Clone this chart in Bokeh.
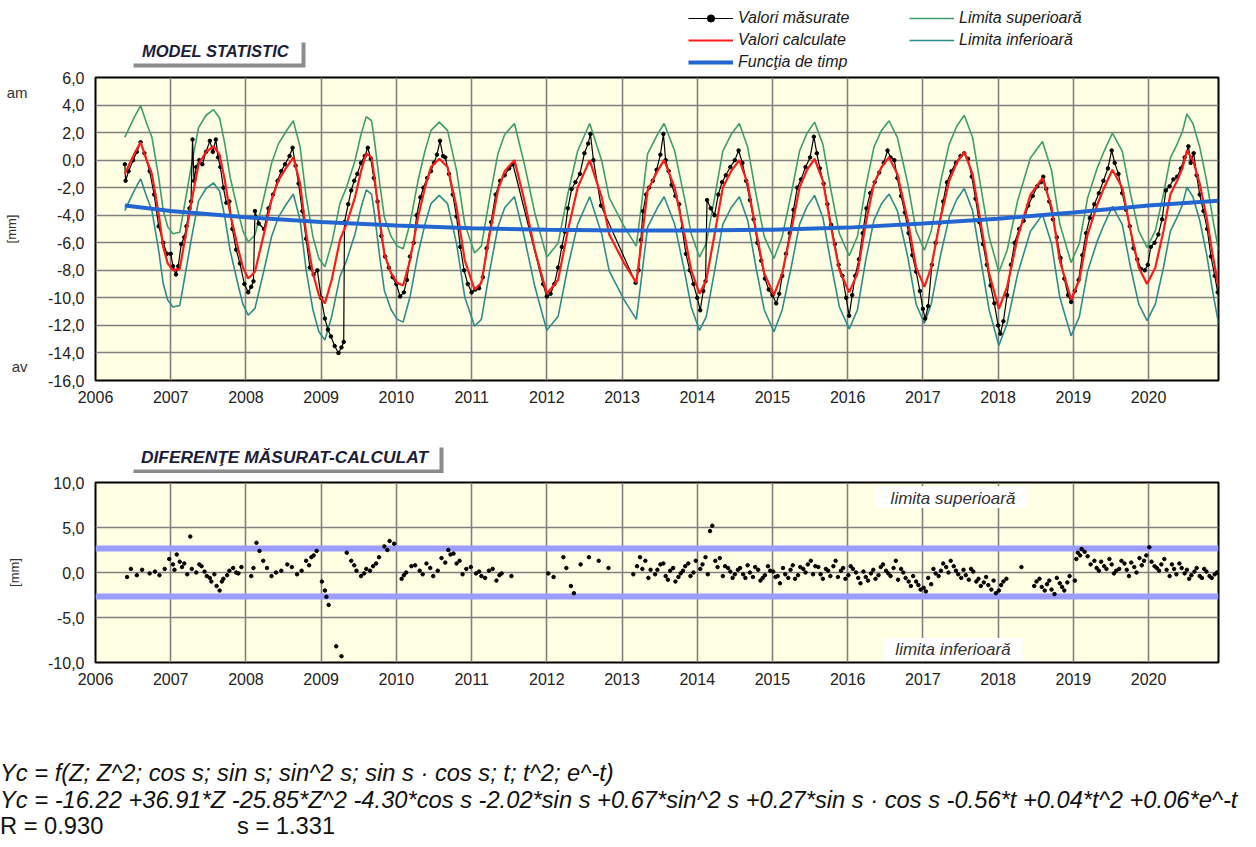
import math
from bokeh.plotting import figure
from bokeh.models import (Range1d, FixedTicker, CustomJSTickFormatter, Label, LinearAxis,
                          Legend, LegendItem, Span, BoxAnnotation, Div)
from bokeh.layouts import column
from bokeh.embed import file_html
from bokeh.resources import INLINE

FONT = "Liberation Sans"

# ---------------- data ----------------
year_ticks = list(range(2006, 2021))
top_yticks = [-16, -14, -12, -10, -8, -6, -4, -2, 0, 2, 4, 6]
bot_yticks = [-10, -5, 0, 5, 10]

# calculated values (red)
calc_year = [2006.39, 2006.45, 2006.52, 2006.60, 2006.68, 2006.75, 2006.84, 2006.90, 2006.96,
             2007.03, 2007.12, 2007.21, 2007.28, 2007.37, 2007.47, 2007.57, 2007.65, 2007.72, 2007.79, 2007.90, 2007.96,
             2008.03, 2008.12, 2008.25, 2008.34, 2008.43, 2008.53, 2008.63, 2008.72, 2008.80, 2008.89, 2008.97,
             2009.05, 2009.14, 2009.25, 2009.34, 2009.45, 2009.53, 2009.60, 2009.67, 2009.71, 2009.78, 2009.84, 2009.93,
             2010.01, 2010.09, 2010.18, 2010.29, 2010.38, 2010.46, 2010.57, 2010.68, 2010.80, 2010.91,
             2011.04, 2011.13, 2011.24, 2011.35, 2011.44, 2011.57, 2011.70, 2011.84,
             2012.00, 2012.15, 2012.28, 2012.41, 2012.57, 2012.73, 2012.83,
             2013.03, 2013.19, 2013.25, 2013.34, 2013.47, 2013.56, 2013.70, 2013.83, 2013.92,
             2014.03, 2014.12, 2014.23, 2014.34, 2014.45, 2014.56, 2014.67, 2014.78, 2014.89,
             2015.02, 2015.13, 2015.25, 2015.36, 2015.46, 2015.56, 2015.67, 2015.78, 2015.89,
             2016.02, 2016.13, 2016.24, 2016.35, 2016.45, 2016.55, 2016.66, 2016.80, 2016.91,
             2017.02, 2017.11, 2017.24, 2017.35, 2017.45, 2017.55, 2017.66, 2017.77, 2017.88,
             2018.01, 2018.12, 2018.26, 2018.43, 2018.59, 2018.71, 2018.82, 2018.97,
             2019.08, 2019.19, 2019.32, 2019.41, 2019.52, 2019.65, 2019.76, 2019.87, 2019.98,
             2020.09, 2020.20, 2020.29, 2020.38, 2020.45, 2020.51, 2020.59, 2020.68, 2020.77, 2020.85, 2020.93]
calc_val = [-1.0, -0.3, 0.5, 1.3, 0.0, -1.0, -3.9, -6.3, -7.5,
            -8.0, -7.9, -5.1, -2.9, -0.3, 0.6, 1.0, 0.4, -1.5, -3.9, -6.5, -7.8,
            -8.6, -8.1, -5.1, -2.9, -1.5, -0.6, 0.2, -1.7, -5.3, -8.2, -9.8,
            -10.4, -8.7, -5.8, -4.6, -2.7, -0.8, 0.5, 0.2, -1.3, -4.4, -6.8, -8.2,
            -8.9, -9.1, -7.3, -4.1, -2.0, -0.5, 0.1, -0.5, -3.4, -7.3,
            -9.4, -8.9, -5.4, -2.2, -0.8, 0.0, -2.9, -6.5,
            -9.7, -8.7, -5.1, -2.0, 0.0, -2.7, -5.4,
            -7.5, -8.9, -6.3, -2.2, -0.8, 0.0, -2.0, -5.4, -8.0,
            -9.7, -8.7, -5.4, -2.0, -0.8, 0.0, -1.7, -5.1, -8.2,
            -9.8, -8.2, -5.1, -2.0, -0.7, 0.1, -1.5, -4.9, -8.0,
            -9.6, -8.2, -4.6, -1.7, -0.5, 0.2, -1.0, -4.4, -7.8,
            -9.2, -7.8, -4.1, -1.5, -0.2, 0.6, -1.0, -4.6, -8.2,
            -10.8, -9.2, -5.6, -2.5, -1.3, -3.4, -7.3, -10.1,
            -8.7, -5.4, -3.2, -2.0, -0.7, -2.0, -5.1, -7.8, -9.0,
            -7.8, -5.1, -2.5, -1.5, -0.6, 0.7, 0.0, -1.7, -4.1, -6.8, -9.2]

# control band half-width (2 * s)
BAND = 2.66
upper_val = [v + BAND for v in calc_val]
lower_val = [v - BAND for v in calc_val]

# measured values (black)
meas_year = [2006.39, 2006.40, 2006.44, 2006.50, 2006.55, 2006.60, 2006.65, 2006.72, 2006.78, 2006.84, 2006.90, 2006.95,
             2007.00, 2007.03, 2007.07, 2007.10, 2007.14, 2007.18, 2007.21, 2007.25, 2007.27, 2007.29, 2007.31, 2007.34,
             2007.38, 2007.42, 2007.47, 2007.52, 2007.56, 2007.60, 2007.63, 2007.66, 2007.70, 2007.74, 2007.78, 2007.82,
             2007.87, 2007.92, 2007.98,
             2008.03, 2008.07, 2008.10, 2008.12, 2008.17, 2008.24, 2008.30, 2008.36, 2008.42, 2008.47, 2008.52, 2008.58,
             2008.62, 2008.66, 2008.70, 2008.75, 2008.80, 2008.85, 2008.90, 2008.95,
             2009.00, 2009.05, 2009.09, 2009.13, 2009.18, 2009.23, 2009.27, 2009.30, 2009.31, 2009.36, 2009.40, 2009.44,
             2009.48, 2009.53, 2009.58, 2009.62, 2009.66, 2009.70, 2009.75, 2009.80, 2009.85, 2009.90, 2009.95,
             2010.00, 2010.05, 2010.10, 2010.14, 2010.18, 2010.23, 2010.27, 2010.32, 2010.36, 2010.41, 2010.46, 2010.50,
             2010.54, 2010.58, 2010.62, 2010.65, 2010.70, 2010.75, 2010.80, 2010.85, 2010.90, 2010.95,
             2011.00, 2011.05, 2011.10, 2011.15, 2011.20, 2011.26, 2011.32, 2011.38, 2011.44, 2011.50, 2011.55, 2011.95,
             2012.00, 2012.05, 2012.10, 2012.15, 2012.20, 2012.24, 2012.28, 2012.33, 2012.38, 2012.44, 2012.50, 2012.55,
             2012.58, 2012.62, 2012.72,
             2013.18, 2013.22, 2013.25, 2013.28, 2013.32, 2013.36, 2013.41, 2013.46, 2013.51, 2013.55, 2013.58, 2013.62,
             2013.66, 2013.71, 2013.76, 2013.80, 2013.85, 2013.90, 2013.95,
             2014.00, 2014.04, 2014.08, 2014.11, 2014.13, 2014.18, 2014.23, 2014.28, 2014.33, 2014.38, 2014.44, 2014.50,
             2014.55, 2014.60, 2014.65, 2014.70, 2014.75, 2014.80, 2014.85, 2014.90, 2014.95,
             2015.00, 2015.05, 2015.09, 2015.13, 2015.18, 2015.23, 2015.28, 2015.33, 2015.38, 2015.44, 2015.50, 2015.55,
             2015.59, 2015.63, 2015.68, 2015.73, 2015.78, 2015.83, 2015.88, 2015.93, 2015.98,
             2016.02, 2016.06, 2016.10, 2016.15, 2016.20, 2016.25, 2016.30, 2016.36, 2016.42, 2016.48, 2016.53, 2016.57,
             2016.62, 2016.66, 2016.71, 2016.76, 2016.81, 2016.86, 2016.91, 2016.96,
             2017.00, 2017.03, 2017.07, 2017.12, 2017.17, 2017.22, 2017.27, 2017.32, 2017.38, 2017.44, 2017.50, 2017.55,
             2017.60, 2017.65, 2017.70, 2017.75, 2017.80, 2017.85, 2017.90, 2017.95,
             2018.00, 2018.03, 2018.07, 2018.12, 2018.17, 2018.22, 2018.28, 2018.34, 2018.40, 2018.46, 2018.52, 2018.57,
             2018.60, 2018.64, 2018.68, 2018.73, 2018.78, 2018.83, 2018.88, 2018.93, 2018.97,
             2019.02, 2019.07, 2019.12, 2019.17, 2019.22, 2019.28, 2019.34, 2019.40, 2019.46, 2019.51, 2019.55, 2019.60,
             2019.65, 2019.70, 2019.75, 2019.80, 2019.85, 2019.90, 2019.95, 2019.99,
             2020.03, 2020.08, 2020.13, 2020.18, 2020.23, 2020.28, 2020.33, 2020.38, 2020.43, 2020.48, 2020.53, 2020.56,
             2020.60, 2020.64, 2020.68, 2020.73, 2020.78, 2020.83, 2020.88, 2020.92]
meas_val = [-0.3, -1.5, -0.8, 0.0, 0.6, 1.3, 0.5, -0.8, -2.5, -4.8, -6.0, -6.8,
            -6.8, -7.7, -8.3, -7.7, -6.1, -5.6, -4.8, -3.5, -3.0, 1.5, -1.5, -0.5,
            0.0, -0.3, 0.6, 1.4, 0.6, 1.5, 0.2, -0.5, -2.0, -3.1, -3.0, -5.0,
            -6.5, -7.5, -9.0,
            -9.6, -9.2, -8.8, -3.7, -4.6, -5.0, -3.5, -2.5, -1.5, -0.8, -0.3, 0.3,
            0.9, -0.4, -1.7, -3.7, -5.7, -7.8, -8.3, -8.0,
            -10.0, -11.5, -12.3, -12.8, -13.5, -14.0, -13.6, -13.2, -4.5, -3.2, -2.2, -1.5,
            -1.0, -0.2, 0.3, 0.9, 0.1, -1.3, -3.0, -5.5, -7.0, -7.8, -8.5,
            -9.0, -9.9, -9.6, -8.7, -7.0, -6.0, -4.0, -2.7, -2.0, -1.3, -0.8, -0.2,
            0.4, 1.4, 0.3, 0.2, -1.0, -2.5, -4.1, -6.3, -8.0, -9.0,
            -9.6, -9.4, -9.3, -8.5, -6.4, -4.5, -2.5, -1.5, -1.1, -0.6, -0.3, -9.0,
            -9.9, -9.7, -9.0, -7.8, -6.3, -5.2, -3.5, -2.1, -1.6, -1.0, 0.5, 1.2,
            1.9, 0.0, -3.3,
            -8.9, -8.0, -5.8, -3.7, -2.5, -2.0, -1.5, -0.7, 0.4, 1.9, 0.0, -0.8,
            -1.8, -2.6, -3.2, -5.0, -6.8, -8.0, -9.0,
            -10.0, -10.9, -9.5, -8.8, -2.9, -3.5, -4.0, -2.5, -1.6, -1.1, -0.5, 0.0,
            0.7, -0.2, -1.5, -2.9, -4.3, -6.0, -7.3, -8.6, -9.4,
            -9.8, -10.4, -9.7, -8.4, -6.8, -5.3, -3.6, -2.0, -1.4, -0.5, 0.2, 1.7,
            0.5, -0.6, -1.7, -3.2, -4.7, -6.1, -7.6, -8.4, -10.0,
            -11.3, -9.8, -8.4, -7.2, -5.3, -3.5, -2.4, -1.6, -0.9, -0.2, 0.7, 0.2,
            0.0, -1.3, -2.6, -3.8, -5.3, -6.9, -8.1, -9.5,
            -10.8, -11.5, -10.6, -7.6, -6.0, -4.6, -3.0, -1.6, -0.8, -0.2, 0.3, 0.5,
            0.1, -1.2, -2.8, -4.5, -6.1, -7.6, -9.1, -10.4,
            -12.0, -12.6, -11.7, -9.8, -7.6, -6.0, -5.0, -4.4, -3.3, -2.6, -1.9, -1.6,
            -1.2, -2.1, -3.0, -4.3, -5.6, -7.1, -8.6, -9.8, -10.3,
            -9.5, -8.7, -6.9, -5.3, -4.2, -3.2, -2.4, -1.5, -0.6, 0.7, -0.2, -1.0,
            -2.4, -3.6, -4.8, -6.4, -7.2, -7.9, -8.0, -7.6,
            -6.3, -6.0, -5.4, -4.3, -2.2, -1.9, -1.4, -1.2, -0.6, 0.2, 1.0, -0.2,
            0.5, -1.1, -2.5, -3.7, -5.0, -7.0, -8.4, -9.6]

# time function (blue)
trend_year = [2006.39, 2007, 2008, 2009, 2010, 2011, 2012, 2013, 2014, 2015, 2016, 2017, 2018, 2019, 2020, 2020.93]
trend_val = [-3.3, -3.7, -4.15, -4.5, -4.75, -4.95, -5.05, -5.1, -5.1, -5.05, -4.9, -4.6, -4.25, -3.8, -3.3, -2.95]

# differences measured - calculated (first pass)
diff_year = [2006.42, 2006.47, 2006.55, 2006.62, 2006.72, 2006.79, 2006.85, 2006.92, 2006.98,
             2007.03, 2007.08, 2007.12, 2007.15, 2007.26, 2007.28, 2007.34, 2007.41, 2007.48, 2007.54, 2007.61, 2007.65,
             2007.70, 2007.78, 2007.87, 2007.94,
             2008.07, 2008.14, 2008.18, 2008.23, 2008.28, 2008.34, 2008.47, 2008.61, 2008.74, 2008.80, 2008.87, 2008.94,
             2009.01, 2009.05, 2009.07, 2009.10, 2009.20, 2009.27, 2009.34, 2009.40, 2009.47, 2009.53, 2009.60, 2009.69,
             2009.77, 2009.84, 2009.91, 2009.97,
             2010.07, 2010.13, 2010.20, 2010.31, 2010.40, 2010.49, 2010.60, 2010.69, 2010.76, 2010.84, 2010.93, 2010.99,
             2011.06, 2011.13, 2011.23, 2011.33, 2011.40, 2011.53,
             2012.02, 2012.09, 2012.22, 2012.26, 2012.32, 2012.36, 2012.45, 2012.56, 2012.69, 2012.82,
             2013.15, 2013.20, 2013.24, 2013.31, 2013.38, 2013.44, 2013.51, 2013.58, 2013.64, 2013.71, 2013.78, 2013.84,
             2013.91, 2013.98,
             2014.04, 2014.11, 2014.17, 2014.20, 2014.24, 2014.30, 2014.37, 2014.44, 2014.50, 2014.57, 2014.64, 2014.70,
             2014.77, 2014.84, 2014.90, 2014.97,
             2015.04, 2015.10, 2015.17, 2015.24, 2015.30, 2015.37, 2015.44, 2015.51, 2015.57, 2015.64, 2015.71, 2015.77,
             2015.84, 2015.91, 2015.97,
             2016.04, 2016.11, 2016.17, 2016.24, 2016.31, 2016.37, 2016.44, 2016.51, 2016.57, 2016.64, 2016.71, 2016.77,
             2016.84, 2016.91, 2016.97,
             2017.04, 2017.11, 2017.17, 2017.24, 2017.31, 2017.37, 2017.44, 2017.51, 2017.57, 2017.64, 2017.71, 2017.77,
             2017.84, 2017.91, 2017.97,
             2018.04, 2018.11, 2018.31, 2018.48, 2018.55, 2018.62, 2018.68, 2018.75, 2018.82, 2018.88, 2018.95,
             2019.02, 2019.06, 2019.11, 2019.19, 2019.28, 2019.34, 2019.41, 2019.48, 2019.54, 2019.61, 2019.68, 2019.74,
             2019.81, 2019.88, 2019.94,
             2020.01, 2020.08, 2020.14, 2020.21, 2020.28, 2020.34, 2020.41, 2020.48, 2020.54, 2020.61, 2020.68, 2020.74,
             2020.81, 2020.88]
diff_val = [-0.5, 0.4, -0.3, 0.3, -0.1, 0.1, -0.3, 0.4, 1.5,
            0.9, 2.0, 1.2, 0.6, 4.0, 0.4, 0.0, 0.7, -0.4, -1.0, -1.5, -2.0,
            -0.7, 0.2, 0.0, 0.6,
            -0.4, 3.3, 2.4, 1.3, 0.5, -0.4, 0.2, 0.6, 0.2, 1.3, 1.7, 2.4,
            -1.0, -2.0, -2.7, -3.6, -8.2, -9.3, 2.2, 1.3, 0.2, -0.4, 0.4, 0.7,
            1.7, 2.9, 3.5, 3.2,
            -0.7, 0.0, 0.7, 0.2, 1.0, -0.4, 1.6, 2.5, 2.1, 1.3, 0.4, 0.6,
            -0.1, -0.4, 0.2, -0.9, -0.1, -0.4,
            -0.1, -0.5, 1.7, 0.5, -1.5, -2.3, 0.9, 1.7, 1.3, 0.5,
            -0.2, 0.7, 1.7, 1.3, 0.3, -0.2, 0.9, -0.4, 0.2, -1.0, -0.1, 0.7,
            -0.4, 1.3,
            0.4, 1.7, 4.6, 5.2, 1.3, 1.6, 0.7, 0.1, -0.2, 0.5, -0.6, 0.0,
            0.6, -0.9, -0.3, 0.2,
            -0.5, -1.2, -0.2, 0.3, -0.7, 0.6, 0.0, 1.3, 0.7, -0.2, 0.4, -0.4,
            1.3, 0.2, -0.7,
            0.7, 0.0, -1.2, -0.5, -0.1, -0.7, 0.6, 0.2, -0.4, 1.3, 0.4, -0.6,
            -1.5, -1.0, -1.9,
            -2.1, -1.3, -0.1, 0.2, 0.6, 1.3, 0.2, -0.6, -0.3, 0.4, -1.0, -1.5,
            -0.5, -1.9, -2.3,
            -1.4, -0.7, 0.6, -1.5, -0.7, -2.0, -0.9, -2.4, -1.2, -2.0, -0.4,
            -0.9, 2.2, 2.6, 1.8, 1.3, 0.2, 0.7, 1.5, -0.1, 0.4, 1.0, -0.4,
            0.6, 1.6, 1.3,
            2.8, 0.7, 0.2, 1.5, -0.4, 0.4, 1.0, -0.1, -0.7, 0.1, -0.4, 0.4,
            -0.4, -0.2]

# differences measured - calculated (second, denser pass)
diff_year_2 = [2007.05, 2007.18, 2007.22, 2007.38, 2007.45, 2007.52, 2007.58, 2007.68, 2007.75, 2007.83, 2007.90,
               2008.10, 2008.40, 2008.55, 2008.68, 2008.84, 2008.90,
               2009.44, 2009.57, 2009.65, 2009.73, 2009.88,
               2010.10, 2010.25, 2010.35, 2010.45, 2010.55, 2010.65, 2010.72, 2010.80, 2010.88,
               2011.10, 2011.18, 2011.28, 2011.37,
               2013.27, 2013.35, 2013.47, 2013.55, 2013.61, 2013.68, 2013.75, 2013.81, 2013.88, 2013.95,
               2014.07, 2014.14, 2014.27, 2014.34, 2014.41, 2014.47, 2014.54, 2014.61, 2014.67, 2014.74, 2014.81,
               2014.87, 2014.94,
               2015.01, 2015.07, 2015.14, 2015.21, 2015.27, 2015.34, 2015.41, 2015.47, 2015.54, 2015.61, 2015.67,
               2015.74, 2015.81, 2015.87, 2015.94,
               2016.01, 2016.07, 2016.14, 2016.21, 2016.27, 2016.34, 2016.41, 2016.47, 2016.54, 2016.61, 2016.67,
               2016.74, 2016.81, 2016.87, 2016.94,
               2017.01, 2017.07, 2017.14, 2017.21, 2017.27, 2017.34, 2017.41, 2017.47, 2017.54, 2017.61, 2017.67,
               2017.74, 2017.81, 2017.87, 2017.94,
               2018.01, 2018.07, 2018.51, 2018.58, 2018.65, 2018.71, 2018.78, 2018.85, 2018.92,
               2019.04, 2019.09, 2019.15, 2019.23, 2019.31, 2019.37, 2019.44, 2019.51, 2019.57, 2019.64, 2019.71,
               2019.77, 2019.84, 2019.91, 2019.97,
               2020.04, 2020.11, 2020.17, 2020.24, 2020.31, 2020.37, 2020.44, 2020.51, 2020.57, 2020.64, 2020.71,
               2020.77, 2020.84, 2020.91]
diff_val_2 = [0.3, 1.0, -0.2, 0.9, 0.1, -0.6, -0.2, -1.0, -0.3, 0.5, -0.1,
              0.5, 0.0, 0.9, -0.2, 0.8, 1.9,
              0.8, -0.1, 0.2, 1.0, 2.5,
              -0.3, 0.8, -0.2, 0.5, 0.2, 1.1, 2.0, 1.0, -0.2,
              0.1, -0.6, 0.4, -0.3,
              0.4, -0.6, 0.3, 1.0, -0.8, 0.5, -0.5, 0.2, 1.0, 0.0,
              0.9, -0.2, 0.6, -0.4, 0.5, -0.6, 0.3, -0.2, 0.8, -0.5, 0.3,
              -0.6, 0.7,
              0.1, -0.4, 0.5, -0.6, 0.8, -0.3, 0.4, 0.9, -0.2, 0.6, -0.7,
              0.2, 0.7, -0.5, 0.5,
              -0.3, 0.4, -0.6, 0.1, -0.9, 0.3, -0.3, 0.9, -0.1, 0.5, -0.8,
              0.0, -1.0, -0.4, -1.4,
              -1.7, -0.6, 0.4, -0.4, 1.0, 0.0, 0.7, -0.2, 0.3, -0.8, 0.1,
              -0.7, -1.1, -1.4, -0.9,
              -2.0, -1.0, -1.0, -1.6, -1.3, -1.9, -0.6, -1.6, -1.1,
              1.5, 1.9, 2.3, 0.9, 0.5, 1.2, 0.4, 0.9, 0.2, 1.3, 0.3,
              1.1, 0.0, 0.8, 1.9,
              1.2, 0.5, 0.9, 0.3, 0.9, -0.2, 0.5, 0.3, -0.3, 0.5, -0.6,
              0.1, -0.6, 0.0]

X_START, X_END = 2006, 2020.93

# ---------------- styles ----------------
FRAME_BG = "#FFFFE3"
GRID = "#7F7F7F"
UP_C = "#3C9E6C"
LO_C = "#2C8C8C"
RED = "#FF1A1A"
BLUE = "#2366D1"
BAND_C = "#9C9CFF"
TXT = "#222222"
W = 1250
LEFT = 94
RIGHT = 32


def style(p, yticks):
    p.background_fill_color = FRAME_BG
    p.border_fill_color = "white"
    p.outline_line_color = "black"
    p.outline_line_width = 2
    p.xaxis.ticker = FixedTicker(ticks=year_ticks)
    p.yaxis.ticker = FixedTicker(ticks=yticks)
    p.xgrid.ticker = FixedTicker(ticks=year_ticks)
    p.ygrid.ticker = FixedTicker(ticks=yticks)
    p.xgrid.grid_line_color = GRID
    p.ygrid.grid_line_color = GRID
    p.xgrid.grid_line_width = 1.6
    p.ygrid.grid_line_width = 1.6
    p.xaxis.formatter = CustomJSTickFormatter(code="return tick.toFixed(0);")
    p.yaxis.formatter = CustomJSTickFormatter(code="return tick.toFixed(1).replace('.', ',');")
    for ax in (p.xaxis, p.yaxis):
        ax.axis_line_color = None
        ax.major_tick_line_color = None
        ax.minor_tick_line_color = None
        ax.major_tick_out = 0
        ax.major_tick_in = 0
        ax.major_label_text_font = FONT
        ax.major_label_text_font_size = "16px"
        ax.major_label_text_color = TXT
    p.xaxis.major_label_standoff = 10
    p.yaxis.major_label_standoff = 11


def side_axis(p, ticks, label_standoff):
    ax = LinearAxis(ticker=FixedTicker(ticks=ticks),
                    formatter=CustomJSTickFormatter(code="return tick > 0 ? 'am' : 'av';"),
                    axis_label="[mm]", axis_label_standoff=label_standoff,
                    axis_label_text_font=FONT, axis_label_text_font_size="13px",
                    axis_label_text_font_style="normal", axis_label_text_color="#333333",
                    major_label_text_font=FONT, major_label_text_font_size="15px",
                    major_label_text_color="#333333", major_label_standoff=18,
                    axis_line_color=None, major_tick_line_color=None, minor_tick_line_color=None,
                    major_tick_out=0, major_tick_in=0)
    p.add_layout(ax, "left")


def blank(height):
    p = figure(width=W, height=height, x_range=Range1d(X_START, X_END), y_range=Range1d(50, 60),
               x_axis_type=None, y_axis_type=None, output_backend="svg", toolbar_location=None,
               title=None, min_border=0, min_border_left=LEFT, min_border_right=RIGHT,
               outline_line_color=None)
    p.background_fill_color = "white"
    p.border_fill_color = "white"
    return p


def title_box(p, text, left, right, bottom, top, size):
    box_kw = dict(left_units="screen", right_units="screen", top_units="screen", bottom_units="screen",
                  fill_alpha=1.0, line_color=None)
    p.add_layout(BoxAnnotation(left=left + 4, right=right + 4, bottom=bottom - 4, top=top - 4,
                               fill_color="#8C8C8C", **box_kw))
    p.add_layout(BoxAnnotation(left=left, right=right, bottom=bottom, top=top,
                               fill_color="white", **box_kw))
    p.add_layout(Label(x=(left + right) / 2, y=(bottom + top) / 2, x_units="screen", y_units="screen",
                       text=text, text_align="center", text_baseline="middle",
                       text_font=FONT, text_font_style="bold italic", text_font_size=size,
                       text_color="#1C1C3A"))


# ---------------- header with legend ----------------
p0 = blank(71)
h_up = p0.line(calc_year, upper_val, line_color=UP_C, line_width=1.6)
h_lo = p0.line(calc_year, lower_val, line_color=LO_C, line_width=1.6)
h_meas = p0.line(meas_year, meas_val, line_color="black", line_width=1.2)
h_meas_pts = p0.scatter(meas_year, meas_val, size=3, color="black")
h_calc = p0.line(calc_year, calc_val, line_color=RED, line_width=2)
h_trend = p0.line(trend_year, trend_val, line_color=BLUE, line_width=4)

leg_kw = dict(orientation="vertical", border_line_color=None, background_fill_alpha=0,
              padding=0, margin=0, spacing=4, label_height=18, glyph_height=18, glyph_width=45,
              label_standoff=5, label_text_font=FONT, label_text_font_style="italic",
              label_text_font_size="16px", label_text_color="#1A1A1A")
leg1 = Legend(items=[LegendItem(label="Valori măsurate", renderers=[h_meas, h_meas_pts]),
                     LegendItem(label="Valori calculate", renderers=[h_calc]),
                     LegendItem(label="Funcţia de timp", renderers=[h_trend])],
              location=(593, 0), **leg_kw)
leg2 = Legend(items=[LegendItem(label="Limita superioară", renderers=[h_up]),
                     LegendItem(label="Limita inferioară", renderers=[h_lo])],
              location=(814, 22), **leg_kw)
p0.add_layout(leg1)
p0.add_layout(leg2)
title_box(p0, "MODEL STATISTIC", 34, 206, 8, 33, "16.5px")

# ---------------- top chart ----------------
p1 = figure(width=W, height=344, x_range=Range1d(X_START, X_END), y_range=Range1d(-16, 6),
            output_backend="svg", toolbar_location=None, title=None,
            min_border_left=LEFT, min_border_right=RIGHT, min_border_top=6, min_border_bottom=35)
style(p1, top_yticks)
side_axis(p1, [4.9, -14.95], -15)

p1.line(calc_year, upper_val, line_color=UP_C, line_width=1.6)
p1.line(calc_year, lower_val, line_color=LO_C, line_width=1.6)
p1.line(meas_year, meas_val, line_color="black", line_width=1.2)
p1.scatter(meas_year, meas_val, size=3.5, color="black")
p1.line(calc_year, calc_val, line_color=RED, line_width=2.2)
p1.line(trend_year, trend_val, line_color=BLUE, line_width=4)

# ---------------- header of bottom chart ----------------
p2h = blank(58)
title_box(p2h, "DIFERENŢE MĂSURAT-CALCULAT", 34, 344, 4, 30, "17.4px")

# ---------------- bottom chart ----------------
p2 = figure(width=W, height=235, x_range=Range1d(X_START, X_END), y_range=Range1d(-10, 10),
            output_backend="svg", toolbar_location=None, title=None,
            min_border_left=LEFT, min_border_right=RIGHT, min_border_top=9, min_border_bottom=46)
style(p2, bot_yticks)
side_axis(p2, [], 24)

for lvl in (BAND, -BAND):
    p2.add_layout(Span(location=lvl, dimension="width", line_color=BAND_C, line_width=6, level="underlay"))

p2.scatter(diff_year, diff_val, size=3.5, color="black")
p2.scatter(diff_year_2, diff_val_2, size=3.5, color="black")

# white boxes behind the limit captions
p2.add_layout(BoxAnnotation(left=2016.37, right=2018.39, bottom=7.17, top=9.61,
                            fill_color="white", fill_alpha=1.0, line_color=None))
p2.add_layout(BoxAnnotation(left=2016.47, right=2018.33, bottom=-9.83, top=-7.28,
                            fill_color="white", fill_alpha=1.0, line_color=None))
lim_kw = dict(text_font=FONT, text_font_style="italic", text_font_size="17px", text_color="#333333",
              text_align="center", text_baseline="middle")
p2.add_layout(Label(x=2017.40, y=8.25, text="limita superioară", **lim_kw))
p2.add_layout(Label(x=2017.40, y=-8.6, text="limita inferioară", **lim_kw))

# ---------------- formula block ----------------
formula_1 = "Yc = f(Z; Z^2; cos s; sin s; sin^2 s; sin s · cos s; t; t^2; e^-t)"
formula_2 = ("Yc = -16.22 +36.91*Z -25.85*Z^2 -4.30*cos s -2.02*sin s +0.67*sin^2 s "
             "+0.27*sin s · cos s -0.56*t +0.04*t^2 +0.06*e^-t")
stat_r = "R = 0.930"
stat_s = "s = 1.331"
html = (
    "<div style=\"font-family:'Liberation Sans'; font-size:23.7px; line-height:26.5px; color:#111111;"
    " padding-top:52px; white-space:nowrap; margin:0;\">"
    f"<i>{formula_1}</i><br><i>{formula_2}</i><br>"
    f"<span style='display:inline-block; width:237px;'>{stat_r}</span>{stat_s}</div>"
)
p3 = Div(text=html, width=W, height=137, margin=0)

layout = column(p0, p1, p2h, p2, p3, spacing=0)
open("out.html", "w").write(file_html(layout, INLINE))
